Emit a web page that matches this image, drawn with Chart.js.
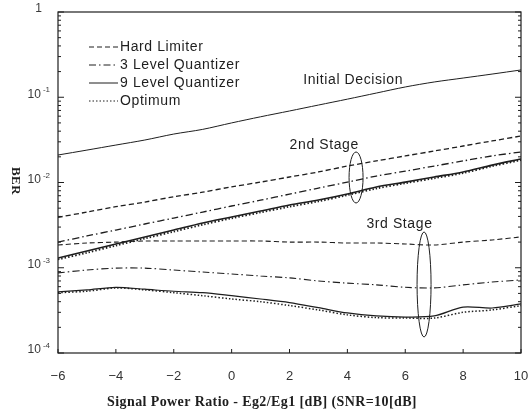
<!DOCTYPE html>
<html>
<head>
<meta charset="utf-8">
<script src="https://cdn.jsdelivr.net/npm/chart.js@4.4.1/dist/chart.umd.min.js"></script>
<style>
  body { margin: 0; background: #fff; }
  canvas { display: block; }
</style>
</head>
<body>
<canvas id="berChart" width="529" height="412"></canvas>
<script>
// x axis: signal power ratio Eg2/Eg1 in dB
const snrDb = [-6, -5, -4, -3, -2, -1, 0, 1, 2, 3, 4, 5, 6, 7, 8, 9, 10];

// BER values
const initialDecision = [0.021, 0.024, 0.0275, 0.0315, 0.037, 0.042, 0.050, 0.059, 0.069, 0.081, 0.095, 0.112, 0.132, 0.151, 0.168, 0.187, 0.209];

// 2nd stage
const hardLimiter2 = [0.0039, 0.0045, 0.0052, 0.0059, 0.0068, 0.0077, 0.0089, 0.0101, 0.0116, 0.0133, 0.0156, 0.0179, 0.0205, 0.0234, 0.0268, 0.0307, 0.0351];
const level3Quant2 = [0.0020, 0.00236, 0.00277, 0.00326, 0.00383, 0.0045, 0.0053, 0.0062, 0.0073, 0.0086, 0.0101, 0.0119, 0.0136, 0.0156, 0.0179, 0.0205, 0.0228];
const level9Quant2 = [0.0013, 0.00157, 0.0019, 0.00229, 0.00277, 0.00335, 0.00394, 0.00463, 0.00545, 0.00623, 0.00733, 0.00886, 0.0101, 0.0116, 0.0133, 0.0160, 0.0189];
const optimum2 = [0.00125, 0.0015, 0.00182, 0.0022, 0.00265, 0.0032, 0.0038, 0.00445, 0.0052, 0.0060, 0.0071, 0.0085, 0.0098, 0.0112, 0.0129, 0.0155, 0.0183];

// 3rd stage
const hardLimiter3 = [0.00185, 0.00195, 0.0020, 0.00206, 0.00206, 0.00206, 0.00206, 0.00206, 0.0020, 0.0020, 0.00195, 0.00195, 0.0019, 0.00185, 0.0020, 0.00212, 0.0023];
const level3Quant3 = [0.00087, 0.00094, 0.00099, 0.00099, 0.00094, 0.00089, 0.000845, 0.0008, 0.00076, 0.0007, 0.00066, 0.00063, 0.00059, 0.00058, 0.00063, 0.00068, 0.00072];
const level9Quant3 = [0.00052, 0.00055, 0.00059, 0.00056, 0.00053, 0.00051, 0.00047, 0.00043, 0.00039, 0.00034, 0.000295, 0.000272, 0.000264, 0.000272, 0.000346, 0.000337, 0.000376];
const optimum3 = [0.00051, 0.00053, 0.00058, 0.00055, 0.00051, 0.00047, 0.00043, 0.0004, 0.00036, 0.00032, 0.00028, 0.00026, 0.000257, 0.000257, 0.0003, 0.00032, 0.00036];

// axis ticks
const xTicks = [-6, -4, -2, 0, 2, 4, 6, 8, 10];
const yMajorTicks = [1, 0.1, 0.01, 0.001, 0.0001];
const yTickExponents = ['', '-1', '-2', '-3', '-4'];

// legend + annotations
const legendNames = ['Hard Limiter', '3 Level Quantizer', '9 Level Quantizer', 'Optimum'];
const notes = [
  { text: 'Initial Decision', x: 4.2, y: 0.159 },
  { text: '2nd Stage', x: 3.2, y: 0.0275 },
  { text: '3rd Stage', x: 5.8, y: 0.00326 }
];
const rings = [
  { x: 4.3, top: 0.0228, bottom: 0.00575 },
  { x: 6.65, top: 0.00263, bottom: 0.000154 }
];

const INK = '#1e1e1e';
const DASHED = [5, 3];
const DASHDOT = [7, 3, 1.5, 3];
const DOTTED = [1.5, 2];
const SOLID = [];

function pts(values) {
  return snrDb.map((v, i) => ({ x: v, y: values[i] }));
}

function series(label, values, dash, width) {
  return {
    label: label,
    data: pts(values),
    borderColor: INK,
    borderWidth: width,
    borderDash: dash,
    pointRadius: 0,
    fill: false,
    tension: 0.3
  };
}

const legendStyles = [DASHED, DASHDOT, SOLID, DOTTED];

// draws frame, inner ticks, labels, legend and notes
const decorations = {
  id: 'decorations',
  afterDraw(chart) {
    const ctx = chart.ctx;
    const a = chart.chartArea;
    const x = chart.scales.x;
    const y = chart.scales.y;
    ctx.save();

    ctx.strokeStyle = INK;
    ctx.lineWidth = 1.2;
    ctx.setLineDash([]);
    ctx.strokeRect(a.left, a.top, a.right - a.left, a.bottom - a.top);

    // inward tick marks
    ctx.lineWidth = 1;
    ctx.beginPath();
    xTicks.forEach(v => {
      const px = x.getPixelForValue(v);
      ctx.moveTo(px, a.bottom);
      ctx.lineTo(px, a.bottom - 4);
    });
    y.ticks.forEach(t => {
      const py = y.getPixelForValue(t.value);
      const len = yMajorTicks.includes(t.value) ? 6 : 3;
      ctx.moveTo(a.left, py);
      ctx.lineTo(a.left + len, py);
      ctx.moveTo(a.right, py);
      ctx.lineTo(a.right - len, py);
    });
    ctx.stroke();

    // y labels with superscript exponents
    ctx.fillStyle = '#3a3a3a';
    ctx.textBaseline = 'middle';
    yMajorTicks.forEach((v, i) => {
      const py = y.getPixelForValue(v) - 3;
      const exp = yTickExponents[i];
      ctx.textAlign = 'right';
      if (!exp) {
        ctx.font = '12px "Liberation Sans", Arial, sans-serif';
        ctx.fillText('1', 42, py);
        return;
      }
      ctx.font = '8px "Liberation Sans", Arial, sans-serif';
      ctx.fillText(exp, 50, py - 4);
      const w = ctx.measureText(exp).width;
      ctx.font = '12px "Liberation Sans", Arial, sans-serif';
      ctx.fillText('10', 50 - w - 2, py);
    });

    // x title
    ctx.fillStyle = INK;
    ctx.textAlign = 'center';
    ctx.font = 'bold 14px "Liberation Serif", "Times New Roman", serif';
    ctx.letterSpacing = '0.4px';
    ctx.fillText('Signal Power Ratio - Eg2/Eg1 [dB] (SNR=10[dB]', 262, 402);

    // y title, reads top to bottom
    ctx.save();
    ctx.translate(15, 181);
    ctx.rotate(Math.PI / 2);
    ctx.font = 'bold 13px "Liberation Serif", "Times New Roman", serif';
    ctx.fillText('BER', 0, 0);
    ctx.restore();

    // legend
    ctx.font = '14px "Liberation Sans", Arial, sans-serif';
    ctx.letterSpacing = '0.6px';
    ctx.textAlign = 'left';
    legendNames.forEach((name, i) => {
      const ly = 47 + i * 18;
      ctx.setLineDash(legendStyles[i]);
      ctx.lineWidth = 1;
      ctx.beginPath();
      ctx.moveTo(89, ly);
      ctx.lineTo(118, ly);
      ctx.stroke();
      ctx.setLineDash([]);
      ctx.fillText(name, 120, ly);
    });

    // curve notes
    ctx.textAlign = 'center';
    notes.forEach(n => {
      ctx.fillText(n.text, x.getPixelForValue(n.x), y.getPixelForValue(n.y));
    });

    // ellipses marking the stage groups
    ctx.lineWidth = 1;
    rings.forEach(r => {
      const cx = x.getPixelForValue(r.x);
      const t = y.getPixelForValue(r.top);
      const b = y.getPixelForValue(r.bottom);
      ctx.beginPath();
      ctx.ellipse(cx, (t + b) / 2, 7, (b - t) / 2, 0, 0, Math.PI * 2);
      ctx.stroke();
    });

    ctx.restore();
  }
};

const chart = new Chart(document.getElementById('berChart'), {
  type: 'line',
  data: {
    datasets: [
      series('Initial Decision', initialDecision, SOLID, 1),
      series('Hard Limiter (2nd)', hardLimiter2, DASHED, 1.3),
      series('3 Level Quantizer (2nd)', level3Quant2, DASHDOT, 1.3),
      series('9 Level Quantizer (2nd)', level9Quant2, SOLID, 1.6),
      series('Optimum (2nd)', optimum2, DOTTED, 1.8),
      series('Hard Limiter (3rd)', hardLimiter3, DASHED, 1.1),
      series('3 Level Quantizer (3rd)', level3Quant3, DASHDOT, 1.1),
      series('9 Level Quantizer (3rd)', level9Quant3, SOLID, 1.2),
      series('Optimum (3rd)', optimum3, DOTTED, 1.5)
    ]
  },
  options: {
    responsive: false,
    animation: false,
    layout: { padding: { top: 12, right: 8, left: 0, bottom: 0 } },
    plugins: {
      legend: { display: false },
      tooltip: { enabled: false }
    },
    scales: {
      x: {
        type: 'linear',
        min: -6,
        max: 10,
        afterBuildTicks: s => { s.ticks = xTicks.map(v => ({ value: v })); },
        afterFit: s => {
          s.height = 59;
          s.paddingLeft = 0;
          s.paddingRight = 0;
        },
        grid: { display: false },
        border: { display: false },
        ticks: {
          padding: 8,
          color: '#333',
          font: { size: 13, family: '"Liberation Sans", Arial, sans-serif' },
          callback: v => (v < 0 ? '\u2212' + Math.abs(v) : String(v))
        }
      },
      y: {
        type: 'logarithmic',
        min: 0.0001,
        max: 1,
        afterBuildTicks: s => {
          const list = [];
          for (let e = -4; e < 0; e++) {
            for (let m = 1; m < 10; m++) list.push({ value: m * Math.pow(10, e) });
          }
          list.push({ value: 1 });
          s.ticks = list;
        },
        afterFit: s => {
          s.width = 58;
          s.paddingTop = 0;
          s.paddingBottom = 0;
        },
        grid: { display: false },
        border: { display: false },
        ticks: { display: false }
      }
    }
  },
  plugins: [decorations]
});
</script>
</body>
</html>
